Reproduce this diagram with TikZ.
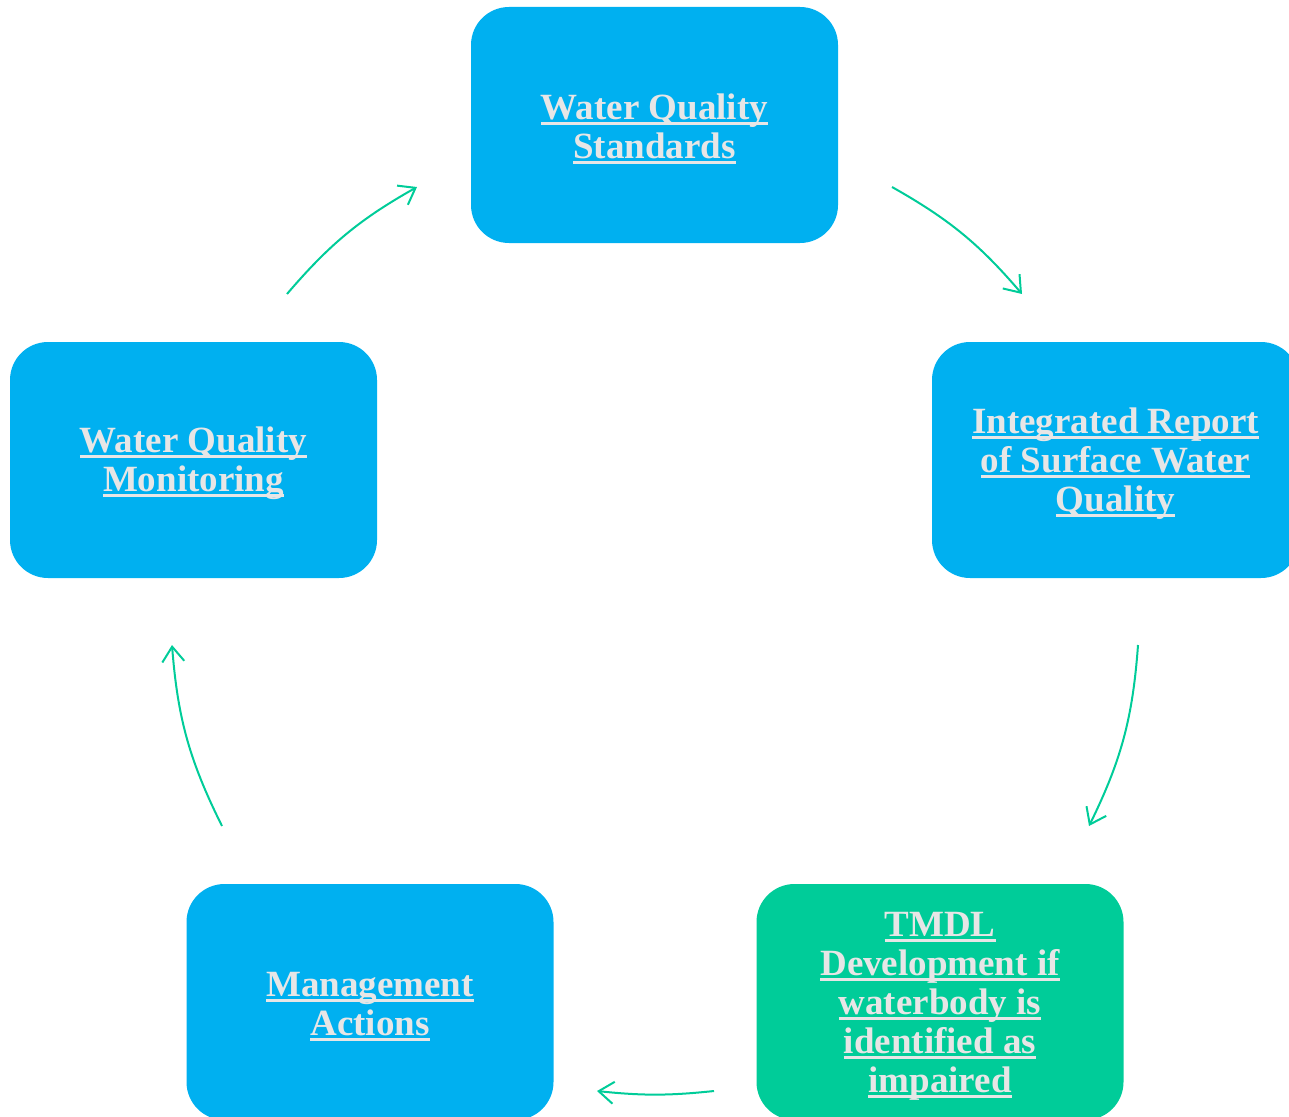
\documentclass[tikz,border=0pt]{standalone}
\usepackage{fontspec}
\setmainfont{Liberation Serif}
\usetikzlibrary{arrows.meta}
\definecolor{boxblue}{HTML}{00B0F0}
\definecolor{boxgreen}{HTML}{00CC99}
\definecolor{textgray}{HTML}{E7E6E6}
\newcommand{\ulline}[1]{\setbox0=\hbox{#1}\rlap{\rule[-5pt]{\wd0}{2.5pt}}\box0}
\newcommand{\topstrut}{\rule{0pt}{33pt}}
\begin{document}
\begin{tikzpicture}[x=1pt,y=-1pt,
  stage/.style={fill=boxblue, rounded corners=38pt, minimum width=367pt,
    minimum height=236pt, align=center, text=textgray, inner sep=0pt,
    font=\bfseries\fontsize{37}{39}\selectfont},
  cyclearrow/.style={draw=boxgreen, line width=2pt,
    -{Straight Barb[length=15pt,width=22pt]}}]
  \clip (0,0) rectangle (1289,1116);
  % stages
  \node[stage] (wqs) at (654.5,125)
    {\topstrut\ulline{Water Quality}\\\ulline{Standards}};
  \node[stage] (report) at (1115.5,460)
    {\topstrut\ulline{Integrated Report}\\\ulline{of Surface Water}\\\ulline{Quality}};
  \node[stage, fill=boxgreen] (tmdl) at (940,1002)
    {\topstrut\ulline{TMDL}\\\ulline{Development if}\\\ulline{waterbody is}\\\ulline{identified as}\\\ulline{impaired}};
  \node[stage] (mgmt) at (370,1002)
    {\topstrut\ulline{Management}\\\ulline{Actions}};
  \node[stage] (monitor) at (193.5,460)
    {\topstrut\ulline{Water Quality}\\\ulline{Monitoring}};
  % arrow ends
  \coordinate (a1) at (287,294);
  \coordinate (b1) at (417,187);
  \coordinate (a2) at (892,187);
  \coordinate (b2) at (1022,294);
  \coordinate (a3) at (1138,645);
  \coordinate (b3) at (1089,826);
  \coordinate (a4) at (714,1091);
  \coordinate (b4) at (597,1091);
  \coordinate (a5) at (222,826);
  \coordinate (b5) at (172,645);
  \draw[cyclearrow] (a1) to[bend left=10] (b1);
  \draw[cyclearrow] (a2) to[bend left=10] (b2);
  \draw[cyclearrow] (a3) to[bend left=11] (b3);
  \draw[cyclearrow] (a4) to[bend left=6] (b4);
  \draw[cyclearrow] (a5) to[bend left=11] (b5);
\end{tikzpicture}
\end{document}
